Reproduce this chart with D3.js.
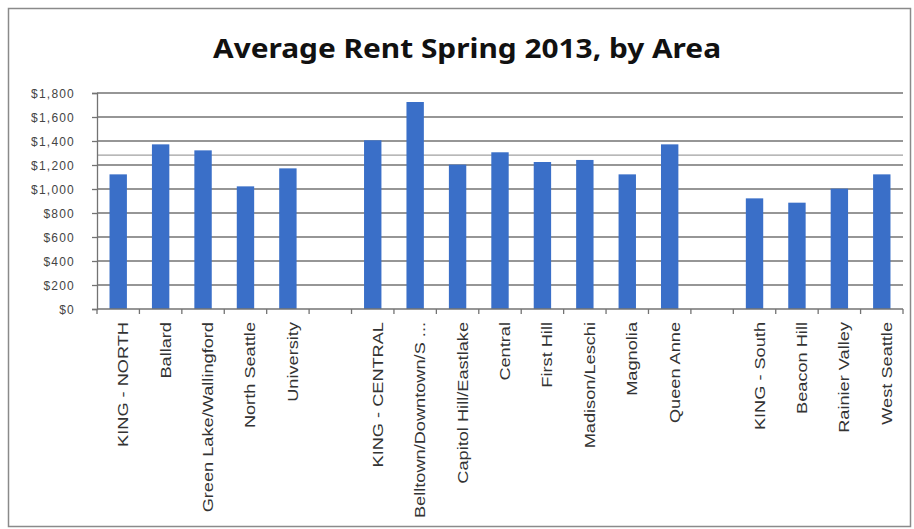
<!DOCTYPE html>
<html><head><meta charset="utf-8">
<script src="https://cdn.jsdelivr.net/npm/d3@7"></script>
<style>
html,body{margin:0;padding:0;background:#fff;}
svg{display:block;}
</style></head>
<body>
<svg id="chart" width="914" height="529"></svg>
<script>
const title = "Average Rent Spring 2013, by Area";
const categories = ["KING - NORTH","Ballard","Green Lake/Wallingford","North Seattle","University","",
  "KING - CENTRAL","Belltown/Downtown/S ...","Capitol Hill/Eastlake","Central","First Hill","Madison/Leschi","Magnolia","Queen Anne","",
  "KING - South","Beacon Hill","Rainier Valley","West Seattle"];
const rents = [1122,1372,1322,1022,1172,null,
  1406,1725,1203,1306,1225,1242,1122,1372,null,
  922,886,1003,1122];
const yTicks = [0,200,400,600,800,1000,1200,1400,1600,1800];
const ghostLines = [1283];

const svg = d3.select("#chart");
const plot = {left:97, right:903, top:93, bottom:309};

// outer frame
svg.append("rect").attr("x",8.5).attr("y",8.5).attr("width",902).attr("height",518)
  .attr("fill","#fff").attr("stroke","#8a8a8a").attr("stroke-width",1.5);

// title
svg.append("text").attr("x",467).attr("y",58).attr("text-anchor","middle")
  .attr("font-family","'Noto Sans','Open Sans',sans-serif").attr("font-weight","bold")
  .attr("font-size",26).attr("fill","#111").text(title)
  .attr("textLength",508).attr("lengthAdjust","spacingAndGlyphs");

const idx = categories.map((c,i)=>i);
const x = d3.scaleBand().domain(idx).range([plot.left, plot.right]).paddingInner(0).paddingOuter(0);
const y = d3.scaleLinear().domain([0,1800]).range([plot.bottom, plot.top]);

// faint scan ghost line
svg.append("g").selectAll("line").data(ghostLines).join("line")
  .attr("x1",plot.left).attr("x2",plot.right)
  .attr("y1",d=>y(d)).attr("y2",d=>y(d))
  .attr("stroke","#a0a0a0").attr("stroke-width",1.2);

// gridlines
svg.append("g").selectAll("line").data(yTicks.filter(d=>d>0)).join("line")
  .attr("x1",plot.left).attr("x2",plot.right)
  .attr("y1",d=>y(d)).attr("y2",d=>y(d))
  .attr("stroke","#737373").attr("stroke-width",1.3);

// bars
const bw = x.bandwidth()*0.41;
svg.append("g").selectAll("rect").data(idx.filter(i=>rents[i]!=null)).join("rect")
  .attr("x",i=>x(i)+x.bandwidth()/2-bw/2)
  .attr("width",bw)
  .attr("y",i=>y(rents[i]))
  .attr("height",i=>y(0)-y(rents[i]))
  .attr("fill","#3a6fc8");

// y axis
const yAxis = d3.axisLeft(y).tickValues(yTicks).tickSize(5)
  .tickFormat(d=>"$"+d3.format(",")(d));
const gy = svg.append("g").attr("transform",`translate(${plot.left},0)`).call(yAxis);
gy.select(".domain").attr("stroke","#737373").attr("stroke-width",1.3);
gy.selectAll(".tick line").attr("stroke","#737373").attr("stroke-width",1.3);
gy.selectAll(".tick text").attr("x",-22).attr("font-family","'Liberation Sans',sans-serif")
  .attr("font-size",12).attr("fill","#444").attr("letter-spacing","1.2px").attr("dy","0.35em");

// x axis baseline and boundary ticks
const bounds = idx.map(i=>x(i)).concat([plot.right]);
svg.append("line").attr("x1",plot.left).attr("x2",plot.right).attr("y1",y(0)).attr("y2",y(0))
  .attr("stroke","#737373").attr("stroke-width",1.3);
svg.append("g").selectAll("line").data(bounds).join("line")
  .attr("x1",d=>d).attr("x2",d=>d).attr("y1",y(0)).attr("y2",y(0)+5)
  .attr("stroke","#737373").attr("stroke-width",1.3);

// x labels rotated
svg.append("g").selectAll("text").data(idx.filter(i=>categories[i]!=="")).join("text")
  .attr("transform",i=>`translate(${x(i)+x.bandwidth()/2+10},${y(0)+13}) rotate(-90) scale(1.3,1)`)
  .attr("text-anchor","end")
  .attr("font-family","'Liberation Sans',sans-serif").attr("font-size",14).attr("fill","#333")
  .text(i=>categories[i]);
</script>
</body></html>
